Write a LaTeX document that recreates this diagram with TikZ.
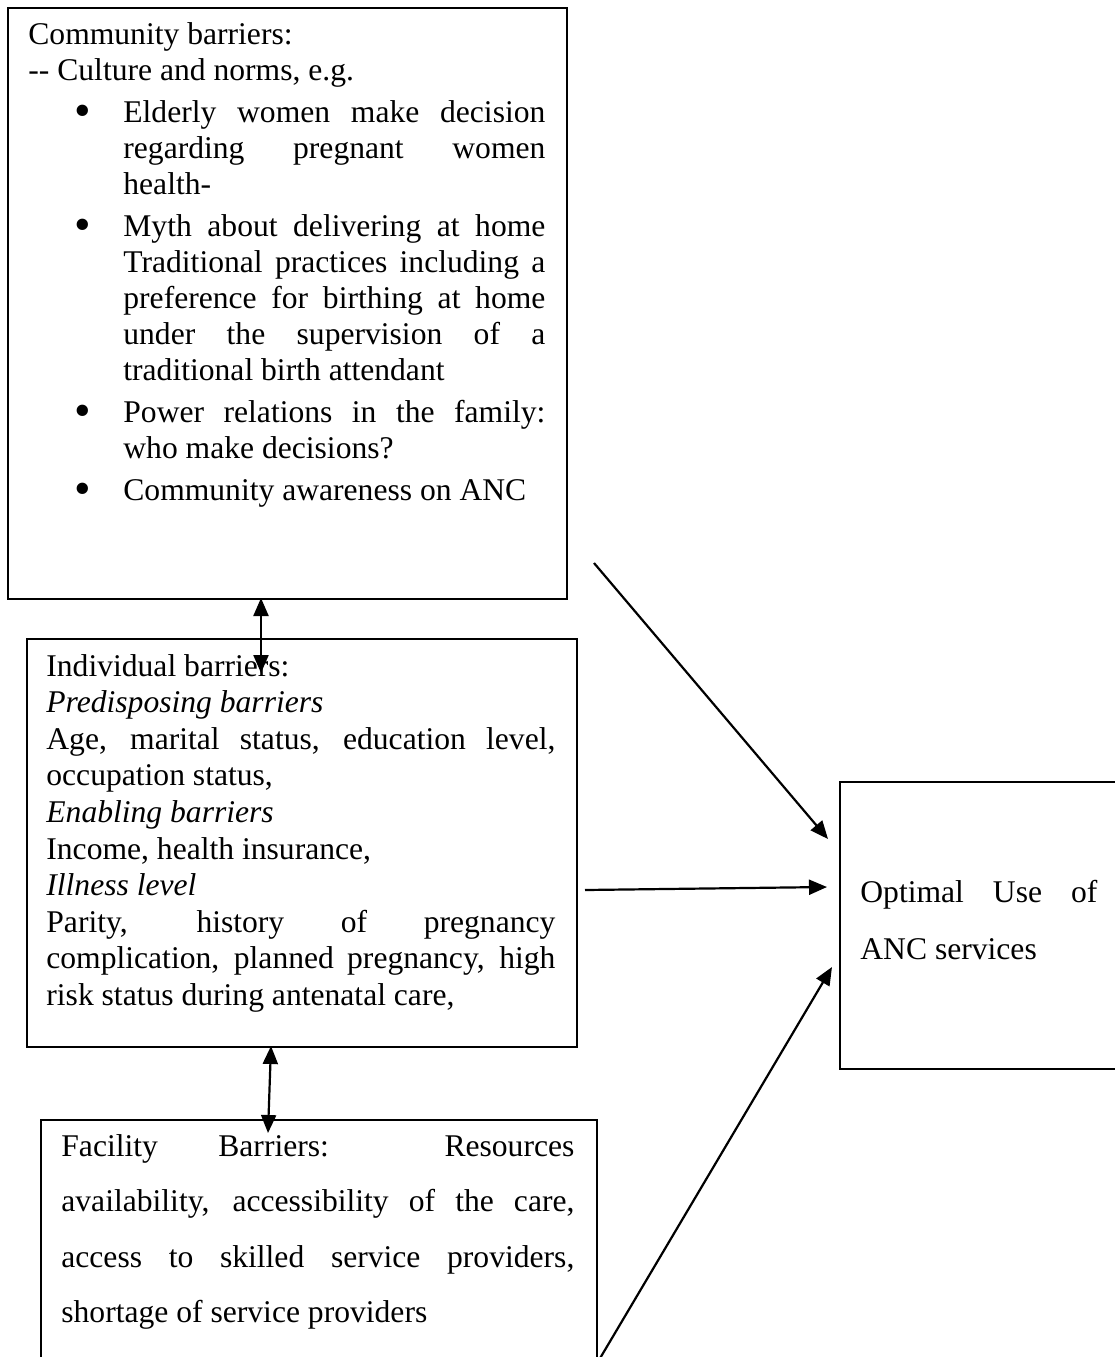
\documentclass[tikz,border=0pt]{standalone}
\usepackage{fontspec}
\setmainfont{Liberation Serif}
\usetikzlibrary{arrows.meta}
\newcommand\bitem{\par\vspace{3pt}\hangindent=47.5pt\hangafter=0\noindent\llap{\makebox[24.5pt][l]{\raisebox{-2.3pt}{\fontsize{23.7pt}{0pt}\selectfont\textbullet}}}}
\tikzset{
  box/.style={draw, line width=1pt, inner sep=0pt, anchor=north west},
  txt/.style={inner sep=0pt, anchor=base west, align=justify, font=\fontsize{15.8pt}{18pt}\selectfont},
  arr/.style={line width=1.1pt, -{Triangle[length=9pt,width=7.5pt]}},
  darr/.style={line width=1.1pt, {Triangle[length=9pt,width=7.5pt]}-{Triangle[length=9pt,width=7.5pt]}}
}
\begin{document}
\begin{tikzpicture}[x=0.5pt,y=-0.5pt]
\useasboundingbox (0,0) rectangle (1115,1357);
\clip (0,0) rectangle (1115,1357);
% boxes
\node[box, minimum width=279.5pt, minimum height=295.75pt] (comm) at (7,6.5) {};
\node[box, minimum width=275pt, minimum height=204pt] (indiv) at (26,638) {};
\node[box, minimum width=278pt, minimum height=145pt] (fac) at (40,1119) {};
\node[box, minimum width=145.5pt, minimum height=143.5pt] (opt) at (839,781) {};
% texts
\node[txt, text width=258.5pt] (commtxt) at (28,44) {\parindent=0pt\parskip=0pt\tolerance=10000\hbadness=10000\hyphenpenalty=10000\fontsize{15.8pt}{18pt}\selectfont
Community barriers:\par
-\kern0pt- Culture and norms, e.g.
\bitem Elderly women make decision\linebreak regarding pregnant women\linebreak health-
\bitem Myth about delivering at home\linebreak Traditional practices including a\linebreak preference for birthing at home\linebreak under the supervision of a\linebreak traditional birth attendant
\bitem Power relations in the family:\linebreak who make decisions?
\bitem Community awareness on ANC\par};
\node[txt, text width=254.5pt] (indivtxt) at (46,676) {\parindent=0pt\parskip=0pt\tolerance=10000\hbadness=10000\hyphenpenalty=10000\fontsize{15.8pt}{18.3pt}\selectfont
Individual barriers:\par
\textit{Predisposing barriers}\par
Age, marital status, education level,\linebreak occupation status,\par
\textit{Enabling barriers}\par
Income, health insurance,\par
\textit{Illness level}\par
Parity, history of pregnancy\linebreak complication, planned pregnancy, high\linebreak risk status during antenatal care,\par};
\node[txt, text width=256.5pt] (factxt) at (61,1156) {\parindent=0pt\parskip=0pt\tolerance=10000\hbadness=10000\hyphenpenalty=10000\fontsize{15.8pt}{27.75pt}\selectfont
Facility Barriers: Resources\linebreak availability, accessibility of the care,\linebreak access to skilled service providers,\linebreak shortage of service providers\par};
\node[txt, text width=118.5pt] (opttxt) at (860,902) {\parindent=0pt\parskip=0pt\tolerance=10000\hbadness=10000\hyphenpenalty=10000\fontsize{15.8pt}{28.5pt}\selectfont
Optimal Use of\linebreak ANC services\par};
% connector end points
\coordinate (a1s) at (261,598);
\coordinate (a1e) at (261,673);
\coordinate (a2s) at (271,1046);
\coordinate (a2e) at (268,1133);
\coordinate (a3s) at (594,563);
\coordinate (a3e) at (828,839);
\coordinate (a4s) at (585,890);
\coordinate (a4e) at (827,887);
\coordinate (a5s) at (599,1360);
\coordinate (a5e) at (832,967);
% connectors
\draw[darr] (a1s) -- (a1e);
\draw[darr] (a2s) -- (a2e);
\draw[arr] (a3s) -- (a3e);
\draw[arr] (a4s) -- (a4e);
\draw[arr] (a5s) -- (a5e);
\end{tikzpicture}
\end{document}
